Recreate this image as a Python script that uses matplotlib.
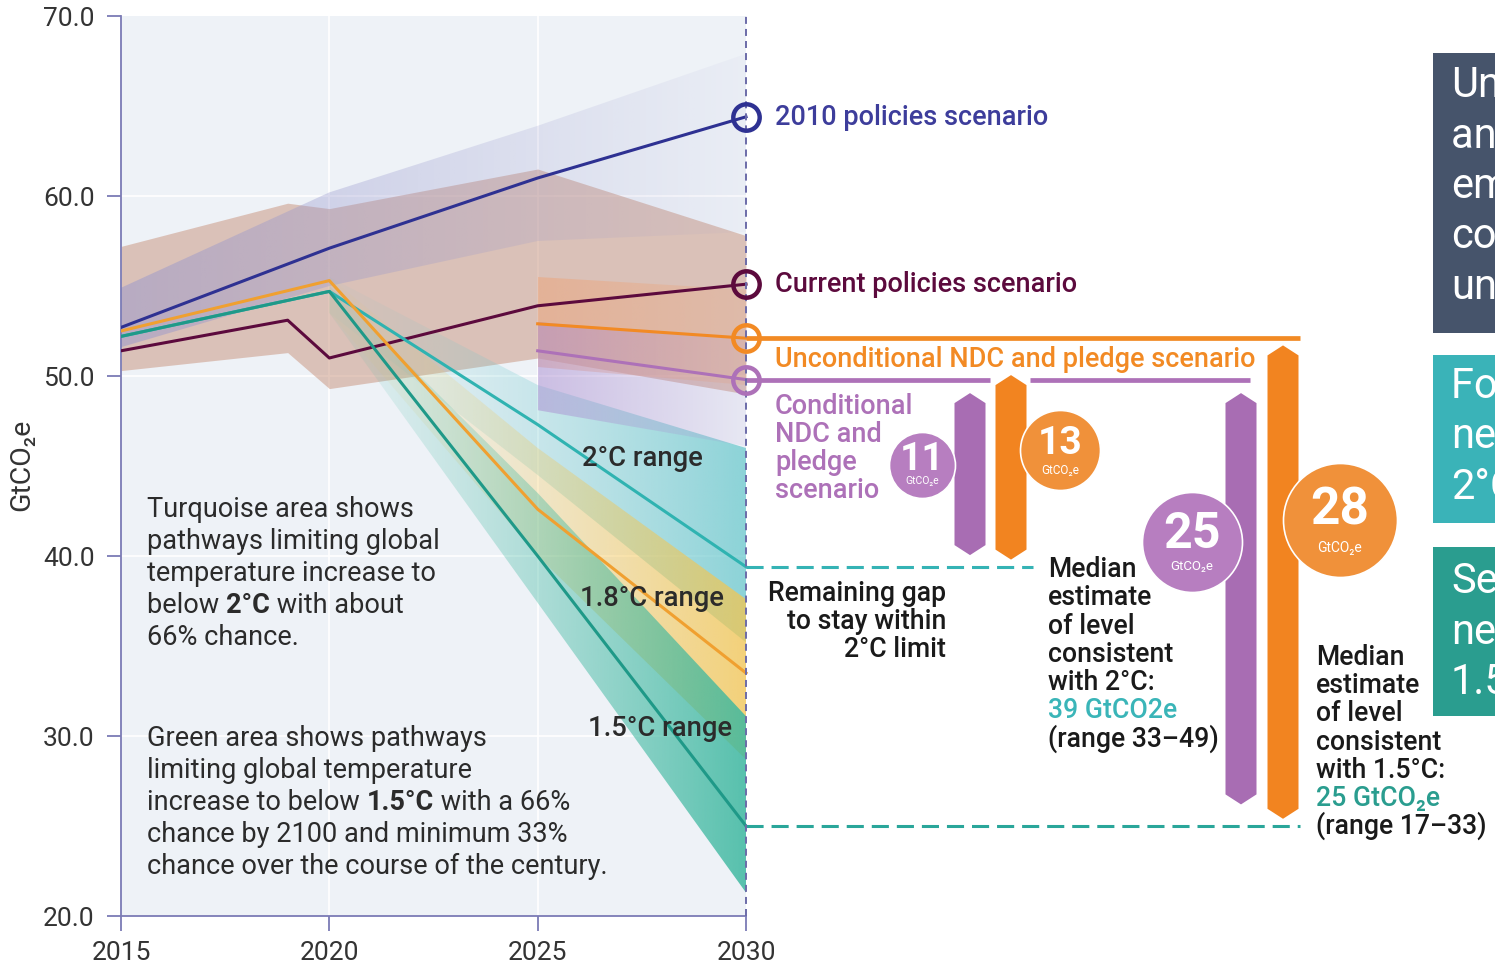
import numpy as np
import matplotlib
matplotlib.use('Agg')
import matplotlib.pyplot as plt
from matplotlib.patches import Polygon, Rectangle
from matplotlib.colors import to_rgb

plt.rcParams['font.family'] = ['Roboto', 'DejaVu Sans']

# ---- data (GtCO2e) ----
years = [2015, 2020, 2025, 2030]
policies_2010 = [52.7, 57.1, 61.0, 64.4]
policies_2010_lo = [51.6, 55.0, 57.5, 58.0]
policies_2010_hi = [54.9, 60.2, 63.9, 67.9]

current_years = [2015, 2019, 2020, 2025, 2030]
current_policies = [51.4, 53.1, 51.0, 53.9, 55.1]
current_lo = [50.3, 51.3, 49.3, 51.0, 49.0]
current_hi = [57.2, 59.6, 59.3, 61.5, 57.8]

path_20 = [52.2, 54.7, 47.3, 39.4]
path_18 = [52.5, 55.3, 42.6, 33.5]
path_15 = [52.2, 54.7, 40.0, 25.0]

fan_years = [2020, 2025, 2030]
range_20_lo = [53.5, 44.5, 35.2]
range_20_hi = [55.5, 49.5, 46.0]
range_18_lo = [53.5, 40.0, 28.7]
range_18_hi = [55.5, 46.0, 37.6]
range_15_lo = [53.5, 37.4, 21.3]
range_15_hi = [55.0, 43.5, 31.1]

ndc_years = [2025, 2030]
uncond = [52.9, 52.1]
uncond_lo = [50.5, 49.5]
uncond_hi = [55.5, 54.8]
cond = [51.4, 49.8]
cond_lo = [48.1, 46.1]
cond_hi = [53.0, 52.0]

gap_values = [11, 13, 25, 28]

# ---- colours ----
C_BLUE = '#2e3192'
C_MAROON = '#5c0a3d'
C_ORANGE = '#f28a24'
C_PURPLE = '#ad71b8'
C_TURQ = '#2fb3b1'
C_TEAL = '#1f9988'
C_YEL = '#f0a030'
C_TXT = '#2b2b2b'

W, H = 1495, 969


def dx(px):
    "pixel column -> year"
    return 2015 + (px - 121) * 15 / 625


def dy(py):
    "pixel row -> GtCO2e"
    return 70 - (py - 16) * 50 / 900


fig = plt.figure(figsize=(W / 100, H / 100), dpi=100)
ax = fig.add_axes([121 / W, (H - 916) / H, (W - 121) / W, 900 / H])
ax.set_xlim(2015, dx(W))
ax.set_ylim(20, 70)
ax.set_facecolor('white')

ax.add_patch(Rectangle((2015, 20), 15, 50, facecolor='#eef2f7', edgecolor='none', zorder=0))
ax.hlines([30, 40, 50, 60], 2015, 2030, color='white', lw=1.2, zorder=0.5)
ax.vlines([2020, 2025], 20, 70, color='white', lw=1.2, zorder=0.5)


def gradient_band(x, lo, hi, color, a0, a1, z, power=1.0):
    verts = list(zip(x, hi)) + list(zip(x[::-1], lo[::-1]))
    poly = Polygon(verts, closed=True, transform=ax.transData)
    rgba = np.zeros((2, 256, 4))
    rgba[..., :3] = to_rgb(color)
    t = np.linspace(0, 1, 256) ** power
    rgba[..., 3] = a0 + (a1 - a0) * t
    im = ax.imshow(rgba, extent=[x[0], x[-1], min(lo), max(hi)], aspect='auto',
                   origin='lower', zorder=z, interpolation='bilinear')
    im.set_clip_path(poly)


# scenario bands
ax.fill_between(current_years, current_lo, current_hi, color='#c8917a', alpha=0.5, lw=0, zorder=1)
gradient_band(years, policies_2010_lo, policies_2010_hi, '#9696cd', 0.5, 0.05, 1.2)

# temperature pathway fans
gradient_band(fan_years, range_20_lo, range_20_hi, '#6cc9cd', 0.05, 0.75, 2, 1.5)
gradient_band(fan_years, range_18_lo, range_18_hi, '#f5c650', 0.05, 0.75, 2.1, 1.5)
gradient_band(fan_years, range_15_lo, range_15_hi, '#3db8a0', 0.08, 0.85, 2.2, 1.4)

# NDC bands
gradient_band(ndc_years, uncond_lo, uncond_hi, '#f0a070', 0.45, 0.2, 2.4)
gradient_band(ndc_years, cond_lo, cond_hi, '#a98ad0', 0.5, 0.1, 2.5)

# lines
lw = 2.2
ax.plot(years, policies_2010, color=C_BLUE, lw=lw, zorder=3)
ax.plot(current_years, current_policies, color=C_MAROON, lw=lw, zorder=3)
ax.plot(years, path_20, color=C_TURQ, lw=lw, zorder=3)
ax.plot(years, path_18, color=C_YEL, lw=lw, zorder=3)
ax.plot(years, path_15, color=C_TEAL, lw=lw, zorder=3)
ax.plot(ndc_years, uncond, color=C_ORANGE, lw=lw, zorder=3)
ax.plot(ndc_years, cond, color=C_PURPLE, lw=lw, zorder=3)

# 2030 divider
ax.vlines(2030, 20, dy(12), color='#6b6ba8', lw=1.4, linestyles=(0, (3.6, 2.6)), zorder=4, clip_on=False)

# extension lines to the right
ax.hlines(uncond[-1], 2030, dx(1300), color=C_ORANGE, lw=3.4, zorder=3)
ax.hlines(cond[-1], 2030, dx(990), color=C_PURPLE, lw=3.4, zorder=3)
ax.hlines(cond[-1], dx(1030), dx(1250), color=C_PURPLE, lw=3.4, zorder=3)
ax.hlines(path_20[-1], 2030, dx(1033), color='#35b3b5', lw=2.2, linestyles=(0, (5.6, 2.6)), zorder=3)
ax.hlines(path_15[-1], 2030, dx(1300), color='#2aa69a', lw=2.2, linestyles=(0, (5.6, 2.6)), zorder=3)

# end markers
for val, col in [(policies_2010[-1], C_BLUE), (current_policies[-1], C_MAROON),
                 (uncond[-1], C_ORANGE), (cond[-1], C_PURPLE)]:
    ax.plot(2030, val, 'o', ms=19, mfc='none', mec=col, mew=3.2, zorder=5)

# gap bars (hexagon-ended)
tip = 10 * 50 / 900
half = 15.5 * 15 / 625


def gap_bar(xc, top, bot, color):
    pts = [(xc, top), (xc + half, top - tip), (xc + half, bot + tip), (xc, bot),
           (xc - half, bot + tip), (xc - half, top - tip)]
    ax.add_patch(Polygon(pts, closed=True, facecolor=color, edgecolor='none', zorder=4, clip_on=False))


gap_bar(dx(970), cond[-1] - 0.75, path_20[-1] + 0.65, '#a86db3')
gap_bar(dx(1011), uncond[-1] - 2.05, path_20[-1] + 0.4, '#f28420')
gap_bar(dx(1241), cond[-1] - 0.75, path_15[-1] + 1.2, '#a86db3')
gap_bar(dx(1283), uncond[-1] - 0.4, path_15[-1] + 0.4, '#f28420')

# gap circles
circles = [(922, 465, 33, '#b77ec0', 28, 7.5), (1060, 450, 40, '#f0913a', 28, 8.5),
           (1192, 542, 50, '#b77ec0', 36, 9.5), (1340, 520, 57, '#f0913a', 37, 10)]
for (cx, cy, r, col, fs, fs2), val in zip(circles, gap_values):
    ax.scatter([dx(cx)], [dy(cy)], s=(2 * r * 0.72) ** 2, color=col, edgecolor='white',
               linewidth=1.2, zorder=6, clip_on=False)
    ax.text(dx(cx), dy(cy - 0.16 * r), str(val), color='white', fontsize=fs, fontweight='bold',
            ha='center', va='center', zorder=7)
    ax.text(dx(cx), dy(cy + 0.5 * r), 'GtCO₂e', color='white', fontsize=fs2,
            ha='center', va='center', zorder=7)


def rich(px, py, parts, size, ha='left'):
    s0, w0, c0 = parts[0]
    t = ax.text(dx(px), dy(py), s0, fontsize=size, fontweight=w0, color=c0, va='baseline', ha=ha, zorder=8)
    for s, w, c in parts[1:]:
        t = ax.annotate(s, xy=(1, 0), xycoords=t, fontsize=size, fontweight=w, color=c,
                        va='bottom', ha='left', zorder=8)
    return t


def lines(px, py0, step, rows, size, weight='normal', color=C_TXT, ha='left'):
    for i, row in enumerate(rows):
        if isinstance(row, str):
            row = [(row, weight, color)]
        rich(px, py0 + i * step, row, size, ha=ha)


# scenario labels
rich(775, 125, [('2010 policies scenario', 'medium', '#3d3d9b')], 19.5)
rich(775, 292, [('Current policies scenario', 'medium', C_MAROON)], 19.5)
rich(775, 367, [('Unconditional NDC and pledge scenario', 'medium', C_ORANGE)], 19.5)
lines(775, 414, 28, ['Conditional', 'NDC and', 'pledge', 'scenario'], 19.5, 'medium', C_PURPLE)

# range labels
rich(582, 466, [('2°C range', 'medium', C_TXT)], 19.8)
rich(580, 606, [('1.8°C range', 'medium', C_TXT)], 19.8)
rich(588, 736, [('1.5°C range', 'medium', C_TXT)], 19.8)

# explanatory notes
lines(147, 517, 32, ['Turquoise area shows', 'pathways limiting global', 'temperature increase to',
                     [('below ', 'normal', C_TXT), ('2°C', 'bold', C_TXT), (' with about', 'normal', C_TXT)],
                     '66% chance.'], 19.5)
lines(147, 746, 32, ['Green area shows pathways', 'limiting global temperature',
                     [('increase to below ', 'normal', C_TXT), ('1.5°C', 'bold', C_TXT),
                      (' with a 66%', 'normal', C_TXT)],
                     'chance by 2100 and minimum 33%', 'chance over the course of the century.'], 19.5)

lines(946, 601, 28, ['Remaining gap', 'to stay within', '2°C limit'], 19.2, 'medium', '#1a1a1a', ha='right')
lines(1048, 577, 28.3, ['Median', 'estimate', 'of level', 'consistent', 'with 2°C:',
                        [('39 GtCO2e', 'medium', '#3ab5b8')], '(range 33–49)'], 19.2, 'medium', '#1a1a1a')
lines(1316, 665, 28.2, ['Median', 'estimate', 'of level', 'consistent', 'with 1.5°C:',
                        [('25 GtCO₂e', 'medium', '#2a9d8f')], '(range 17–33)'], 19.2, 'medium', '#1a1a1a')

# side panels (cut by the figure edge)
panels = [(53, 333, '#46546b', 97, ['Unconditional', 'and conditional', 'emissions', 'commitments', 'unmet']),
          (355, 523, '#3ab3b8', 398, ['For 2°C', 'needed', '2°C']),
          (547, 716, '#2a9d8f', 593, ['Seven', 'needed', '1.5°C'])]
for top, bot, col, base, words in panels:
    ax.add_patch(Rectangle((dx(1433), dy(bot)), dx(1600) - dx(1433), dy(top) - dy(bot),
                           facecolor=col, edgecolor='none', zorder=6, clip_on=False))
    for i, wd in enumerate(words):
        ax.text(dx(1451), dy(base + i * 50.5), wd, color='white', fontsize=30, va='baseline',
                zorder=7, clip_on=False)

# axes styling
for s in ['top', 'right']:
    ax.spines[s].set_visible(False)
for s in ['left', 'bottom']:
    ax.spines[s].set_color('#7b7bb5')
    ax.spines[s].set_linewidth(1.3)
ax.spines['bottom'].set_bounds(2015, 2030)
ax.set_xticks([2015, 2020, 2025, 2030])
ax.set_yticks([20, 30, 40, 50, 60, 70])
ax.set_yticklabels([f'{v:.1f}' for v in [20, 30, 40, 50, 60, 70]])
ax.tick_params(axis='y', length=10, width=1.3, color='#7b7bb5', pad=9, labelsize=19, labelcolor='#333333')
ax.tick_params(axis='x', length=11, width=1.3, color='#7b7bb5', pad=7, labelsize=19, labelcolor='#333333')
fig.text(22 / W, 1 - 465 / H, 'GtCO₂e', rotation=90, ha='center', va='center', fontsize=20.5, color='#333333')

fig.savefig('out.png', dpi=100)
